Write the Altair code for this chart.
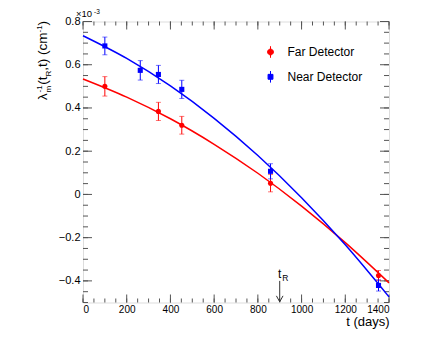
import altair as alt
import pandas as pd

FONT = "Liberation Sans"

# ---- data (y values in units of 1e-3 cm^-1) ----
far_t = [100, 345, 452, 858, 1352]
far_val = [0.500, 0.384, 0.320, 0.052, -0.375]
far_err = [0.045, 0.042, 0.041, 0.040, 0.023]

near_t = [100, 262, 345, 452, 858, 1352]
near_val = [0.687, 0.574, 0.555, 0.486, 0.107, -0.421]
near_err = [0.041, 0.045, 0.042, 0.042, 0.035, 0.026]

fit_t = [0, 200, 400, 600, 800, 1000, 1200, 1400]
far_fit = [0.534, 0.450, 0.350, 0.232, 0.098, -0.054, -0.223, -0.409]
near_fit = [0.734, 0.629, 0.502, 0.352, 0.180, -0.015, -0.233, -0.474]

series_names = ["Far Detector", "Near Detector"]
series_colors = ["#ff0000", "#0000ff"]

x_major = [0, 200, 400, 600, 800, 1000, 1200, 1400]
y_major = [-0.4, -0.2, 0.0, 0.2, 0.4, 0.6, 0.8]
x_minor = list(range(0, 1401, 50))
y_minor = [round(-0.5 + 0.05 * i, 2) for i in range(27)]

tR_t = [900]
tR_from = [-0.40]
tR_to = [-0.497]
tR_label_v = [-0.385]

W, H = 306, 281

xs = alt.Scale(domain=[0, 1400], nice=False, zero=False)
ys = alt.Scale(domain=[-0.5, 0.8], nice=False, zero=False)

xaxis = alt.Axis(values=x_major, format="d", ticks=False, tickSize=0, domain=False, grid=False,
                 labelFont=FONT, labelFontSize=10, labelColor="black", labelPadding=2,
                 title="t (days)", titleFont=FONT, titleFontSize=13, titleFontWeight="normal",
                 titleColor="black", titleAnchor="end", titleAlign="right", titleBaseline="alphabetic",
                 titleX=W, titleY=22.5)
yaxis = alt.Axis(values=y_major, format=".1~f", ticks=False, tickSize=0, domain=False, grid=False,
                 labelFont=FONT, labelFontSize=11, labelColor="black", labelPadding=3, title=None)


def X(f="t"):
    return alt.X(f"{f}:Q", scale=xs, axis=xaxis)


def Y(f="v"):
    return alt.Y(f"{f}:Q", scale=ys, axis=yaxis)


far_df = pd.DataFrame({"t": far_t, "v": far_val,
                       "lo": [v - e for v, e in zip(far_val, far_err)],
                       "hi": [v + e for v, e in zip(far_val, far_err)],
                       "series": series_names[0]})
near_df = pd.DataFrame({"t": near_t, "v": near_val,
                        "lo": [v - e for v, e in zip(near_val, near_err)],
                        "hi": [v + e for v, e in zip(near_val, near_err)],
                        "series": series_names[1]})
all_df = pd.concat([far_df, near_df], ignore_index=True)
far_fit_df = pd.DataFrame({"t": fit_t, "v": far_fit})
near_fit_df = pd.DataFrame({"t": fit_t, "v": near_fit})

TICK = "#555555"
layers = []

# ---- frame ticks (ROOT style: inside, on all four sides) ----
xmaj = pd.DataFrame({"t": x_major})
xmin = pd.DataFrame({"t": x_minor})
ymaj = pd.DataFrame({"v": y_major})
ymin = pd.DataFrame({"v": y_minor})
layers += [
    alt.Chart(xmaj).mark_rule(color=TICK, strokeWidth=1).encode(x=X(), y=alt.value(H), y2=alt.value(H - 8)),
    alt.Chart(xmin).mark_rule(color=TICK, strokeWidth=1).encode(x=X(), y=alt.value(H), y2=alt.value(H - 4)),
    alt.Chart(xmaj).mark_rule(color=TICK, strokeWidth=1).encode(x=X(), y=alt.value(0), y2=alt.value(8)),
    alt.Chart(xmin).mark_rule(color=TICK, strokeWidth=1).encode(x=X(), y=alt.value(0), y2=alt.value(4)),
    alt.Chart(ymaj).mark_rule(color=TICK, strokeWidth=1).encode(y=Y(), x=alt.value(0), x2=alt.value(9)),
    alt.Chart(ymin).mark_rule(color=TICK, strokeWidth=1).encode(y=Y(), x=alt.value(0), x2=alt.value(5)),
    alt.Chart(ymaj).mark_rule(color=TICK, strokeWidth=1).encode(y=Y(), x=alt.value(W), x2=alt.value(W - 9)),
    alt.Chart(ymin).mark_rule(color=TICK, strokeWidth=1).encode(y=Y(), x=alt.value(W), x2=alt.value(W - 5)),
]

# ---- fit curves ----
layers += [
    alt.Chart(far_fit_df).mark_line(color=series_colors[0], strokeWidth=1.5, interpolate="monotone").encode(x=X(), y=Y()),
    alt.Chart(near_fit_df).mark_line(color=series_colors[1], strokeWidth=1.5, interpolate="monotone").encode(x=X(), y=Y()),
]

# ---- error bars, caps and markers ----
for df, col, shape in [(far_df, series_colors[0], "circle"), (near_df, series_colors[1], "square")]:
    layers += [
        alt.Chart(df).mark_rule(color=col, strokeWidth=1).encode(x=X(), y=Y("lo"), y2="hi"),
        alt.Chart(df).mark_tick(color=col, size=5, thickness=1, orient="horizontal", opacity=0.55).encode(x=X(), y=Y("lo")),
        alt.Chart(df).mark_tick(color=col, size=5, thickness=1, orient="horizontal", opacity=0.55).encode(x=X(), y=Y("hi")),
        alt.Chart(df).mark_point(color=col, filled=True, opacity=1, shape=shape, size=26).encode(x=X(), y=Y()),
    ]

# ---- legend (invisible layer that only drives the legend) ----
circle_bar = "M-0.5,0 A0.5,0.5 0 1,0 0.5,0 A0.5,0.5 0 1,0 -0.5,0 Z M0,-1 L0,1"
square_bar = "M-0.42,-0.42 L0.42,-0.42 L0.42,0.42 L-0.42,0.42 Z M0,-1 L0,1"
leg = alt.Legend(orient="none", legendX=181, legendY=24, title=None, labelFont=FONT,
                 labelFontSize=12, labelColor="black", symbolSize=135, symbolOpacity=1,
                 symbolStrokeWidth=1, rowPadding=7.8, labelOffset=10.5, padding=0)
layers.append(
    alt.Chart(all_df).mark_point(filled=True, opacity=0).encode(
        x=X(), y=Y(),
        fill=alt.Fill("series:N", scale=alt.Scale(domain=series_names, range=series_colors), legend=leg),
        stroke=alt.Stroke("series:N", scale=alt.Scale(domain=series_names, range=series_colors), legend=leg),
        shape=alt.Shape("series:N", scale=alt.Scale(domain=series_names, range=[circle_bar, square_bar]), legend=leg),
    )
)

# ---- t_R arrow ----
arrow_df = pd.DataFrame({"t": tR_t, "v": tR_to, "v0": tR_from, "lab": tR_label_v})
layers += [
    alt.Chart(arrow_df).mark_rule(color="#333333", strokeWidth=1).encode(x=X(), y=Y("v0"), y2="v"),
    alt.Chart(arrow_df).mark_point(shape="M-0.55,-1 L0,0 L0.55,-1", filled=False, color="#333333",
                                   size=144, strokeWidth=1, opacity=1).encode(x=X(), y=Y()),
    alt.Chart(arrow_df).mark_text(text="t", font=FONT, fontSize=12, align="center", baseline="alphabetic",
                                  color="black").encode(x=X(), y=Y("lab")),
    alt.Chart(arrow_df).mark_text(text="R", font=FONT, fontSize=8.5, align="left", baseline="alphabetic",
                                  color="black", dx=2.5, dy=3.5).encode(x=X(), y=Y("lab")),
]

# ---- y-axis title and exponent label (text annotations) ----
one = pd.DataFrame({"a": [0]})


def txt(s, x, y, size, angle=0):
    kw = dict(text=s, font=FONT, fontSize=size, align="left", baseline="alphabetic", color="black")
    if angle:
        kw["angle"] = angle
    return alt.Chart(one).mark_text(**kw).encode(x=alt.value(x), y=alt.value(y))


BX = -36
layers += [
    txt("λ", BX, 78.5, 13.5, 270),
    txt("-1", BX - 5.5, 70.9, 8, 270),
    txt("m", BX + 3.5, 70.9, 8, 270),
    txt("(t", BX, 63.3, 13.5, 270),
    txt("R", BX + 3.5, 55.0, 8, 270),
    txt(",t) (cm", BX, 49.2, 13.5, 270),
    txt("-1", BX - 5.5, 11.0, 8, 270),
    txt(")", BX, 3.9, 13.5, 270),
    txt("×10", -7, -5, 9.5),
    txt("-3", 11, -7.8, 6.5),
]

chart = alt.layer(*layers).properties(
    width=W, height=H,
    autosize=alt.AutoSizeParams(type="none"),
    padding={"left": 75, "top": 13.5, "right": 35, "bottom": 30},
).configure_view(stroke=TICK, strokeWidth=1).configure(font=FONT)

chart.save("out.html", embed_options={"renderer": "svg", "actions": False})
